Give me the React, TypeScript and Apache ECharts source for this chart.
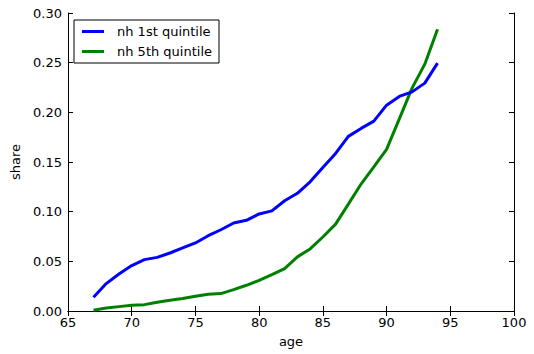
import React, { useEffect, useRef } from "react";
import * as echarts from "echarts";

const ages = [67, 68, 69, 70, 71, 72, 73, 74, 75, 76, 77, 78, 79, 80, 81, 82, 83, 84, 85, 86, 87, 88, 89, 90, 91, 92, 93, 94];
const q1Share = [0.0138, 0.0276, 0.0373, 0.0457, 0.0517, 0.054, 0.0584, 0.0635, 0.0685, 0.0758, 0.0818, 0.0886, 0.0913, 0.0977, 0.1008, 0.111, 0.1185, 0.130, 0.1445, 0.1586, 0.1758, 0.1838, 0.1911, 0.2072, 0.216, 0.2206, 0.2294, 0.2495];
const q5Share = [0.0007, 0.003, 0.0044, 0.0057, 0.0064, 0.0088, 0.0108, 0.0125, 0.0148, 0.0168, 0.0175, 0.0215, 0.0259, 0.0309, 0.0366, 0.0427, 0.0545, 0.0625, 0.0745, 0.0875, 0.1076, 0.1278, 0.145, 0.1627, 0.1934, 0.2244, 0.2485, 0.2837];
const seriesNames = ["nh 1st quintile", "nh 5th quintile"];

const FONT = "DejaVu Sans";

export default function App() {
  const ref = useRef<HTMLDivElement>(null);
  useEffect(() => {
    if (!ref.current) return;
    const chart = echarts.init(ref.current, null, { renderer: "svg" });
    const axisCommon = {
      axisLine: { show: true, lineStyle: { color: "#000", width: 1 } },
      splitLine: { show: false },
    };
    chart.setOption({
      animation: false,
      backgroundColor: "#fff",
      textStyle: { fontFamily: FONT },
      grid: { left: 68, right: 20, top: 13, bottom: 43, containLabel: false },
      legend: {
        orient: "vertical",
        left: 74,
        top: 20,
        backgroundColor: "#fff",
        borderColor: "#000",
        borderWidth: 1,
        borderRadius: 0,
        padding: [4, 7, 4, 8],
        itemGap: 5,
        itemWidth: 22,
        itemHeight: 3,
        icon: "rect",
        textStyle: { fontFamily: FONT, fontSize: 13, color: "#000", lineHeight: 15, padding: [0, 0, 0, 8] },
        data: seriesNames,
      },
      xAxis: [
        {
          type: "value",
          min: 65,
          max: 100,
          interval: 5,
          name: "age",
          nameLocation: "middle",
          nameGap: 24,
          nameTextStyle: { fontFamily: FONT, fontSize: 13, color: "#000" },
          ...axisCommon,
          axisTick: { show: true, inside: true, length: 5, lineStyle: { color: "#000" } },
          axisLabel: { fontFamily: FONT, fontSize: 13, color: "#000", margin: 5 },
        },
        {
          type: "value",
          position: "top",
          min: 65,
          max: 100,
          interval: 5,
          ...axisCommon,
          axisTick: { show: true, inside: true, length: 5, lineStyle: { color: "#000" } },
          axisLabel: { show: false },
        },
      ],
      yAxis: [
        {
          type: "value",
          min: 0,
          max: 0.3,
          interval: 0.05,
          name: "share",
          nameLocation: "middle",
          nameGap: 42,
          nameRotate: 90,
          nameTextStyle: { fontFamily: FONT, fontSize: 13, color: "#000" },
          ...axisCommon,
          axisTick: { show: true, inside: true, length: 5, lineStyle: { color: "#000" } },
          axisLabel: { fontFamily: FONT, fontSize: 13, color: "#000", margin: 6, formatter: (v: number) => v.toFixed(2) },
        },
        {
          type: "value",
          position: "right",
          min: 0,
          max: 0.3,
          interval: 0.05,
          ...axisCommon,
          axisTick: { show: true, inside: true, length: 5, lineStyle: { color: "#000" } },
          axisLabel: { show: false },
        },
      ],
      series: [
        {
          name: seriesNames[0],
          type: "line",
          symbol: "none",
          lineStyle: { color: "#0000ff", width: 3 },
          itemStyle: { color: "#0000ff" },
          data: ages.map((a, i) => [a, q1Share[i]]),
          z: 3,
        },
        {
          name: seriesNames[1],
          type: "line",
          symbol: "none",
          lineStyle: { color: "#008000", width: 3 },
          itemStyle: { color: "#008000" },
          data: ages.map((a, i) => [a, q5Share[i]]),
          z: 2,
        },
      ],
    });
    return () => chart.dispose();
  }, []);
  return <div ref={ref} style={{ width: 534, height: 354, position: "absolute", left: 0, top: 0 }} />;
}
